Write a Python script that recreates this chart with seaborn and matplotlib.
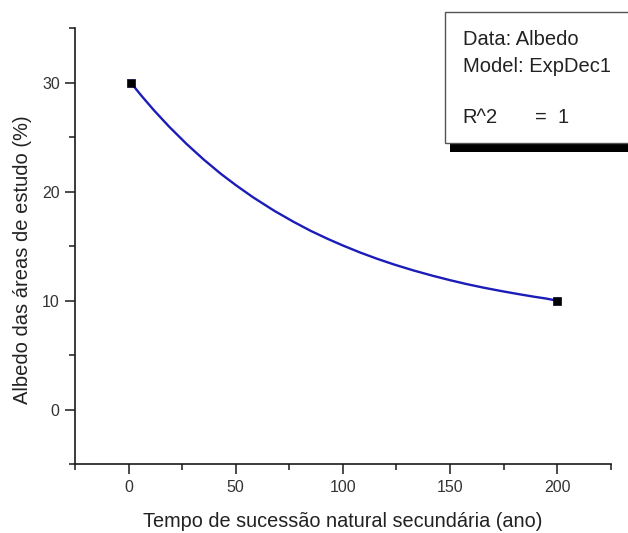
import numpy as np
import pandas as pd
import seaborn as sns
import matplotlib.pyplot as plt
from matplotlib.patches import Rectangle
from matplotlib.ticker import MultipleLocator

# measured points
data_x = [1, 200]
data_y = [30, 10]

# fitted ExpDec1 curve
curve_x = [1, 6, 12, 19, 27, 35, 43, 50, 58, 68, 77, 85, 93, 100, 108, 116, 124, 133, 142, 150, 158, 166, 174, 182, 189, 195, 200]
curve_y = [30.0, 28.79, 27.42, 25.94, 24.38, 22.95, 21.64, 20.60, 19.49, 18.24, 17.23, 16.40, 15.66, 15.06,
           14.42, 13.84, 13.31, 12.77, 12.28, 11.88, 11.51, 11.18, 10.88, 10.60, 10.37, 10.19, 10.0]

xlabel = "Tempo de sucessão natural secundária (ano)"
ylabel = "Albedo das áreas de estudo (%)"
legend_lines = ["Data: Albedo", "Model: ExpDec1"]

sns.set_style("ticks")
plt.rcParams['font.family'] = ['Liberation Sans', 'DejaVu Sans']

fig = plt.figure(figsize=(6.28, 5.33), dpi=100)
ax = fig.add_axes([0.1194, 0.1289, 0.8531, 0.8186])

curveDf = pd.DataFrame({"x": curve_x, "y": curve_y})
pointDf = pd.DataFrame({"x": data_x, "y": data_y})

sns.lineplot(data=curveDf, x="x", y="y", ax=ax, color="#1c1cb8", linewidth=1.7, estimator=None, sort=False)
sns.scatterplot(data=pointDf, x="x", y="y", ax=ax, marker="s", color="black", s=40, edgecolor="#000033", zorder=3)

ax.xaxis.set_major_locator(MultipleLocator(50))
ax.xaxis.set_minor_locator(MultipleLocator(25))
ax.yaxis.set_major_locator(MultipleLocator(10))
ax.yaxis.set_minor_locator(MultipleLocator(5))
ax.tick_params(which="major", length=7, width=1.1, labelsize=11.5, colors="#1a1a1a", labelcolor="#333333", pad=4)
ax.tick_params(which="minor", length=4, width=1.1, colors="#1a1a1a")
ax.set_xticks([0, 50, 100, 150, 200])
ax.set_yticks([0, 10, 20, 30])
ax.set_xlim(-25, 225)
ax.set_ylim(-5, 35)

sns.despine(ax=ax)
for s in ["left", "bottom"]:
    ax.spines[s].set_linewidth(1.2)
    ax.spines[s].set_color("#1a1a1a")

ax.set_xlabel(xlabel, fontsize=14.3, color="#222222")
ax.set_ylabel(ylabel, fontsize=14.5, color="#222222")
ax.xaxis.set_label_coords(0.5, -0.11)
ax.yaxis.set_label_coords(-0.08, 0.468)

# fit info box with shadow
fig.patches.append(Rectangle((0.7165, 0.715), 0.3, 0.017, transform=fig.transFigure,
                             facecolor="black", edgecolor="none", zorder=1))
fig.patches.append(Rectangle((0.7086, 0.7317), 0.3, 0.2458, transform=fig.transFigure,
                             facecolor="white", edgecolor="#555555", linewidth=1.0, zorder=2))
fig.text(0.737, 0.925, legend_lines[0], fontsize=14.5, va="center", color="#222222")
fig.text(0.737, 0.875, legend_lines[1], fontsize=14.5, va="center", color="#222222")
fig.text(0.737, 0.779, "R^2", fontsize=14.5, va="center", color="#222222")
fig.text(0.852, 0.779, "=  1", fontsize=14.5, va="center", color="#222222")

fig.savefig("out.png", dpi=100)
